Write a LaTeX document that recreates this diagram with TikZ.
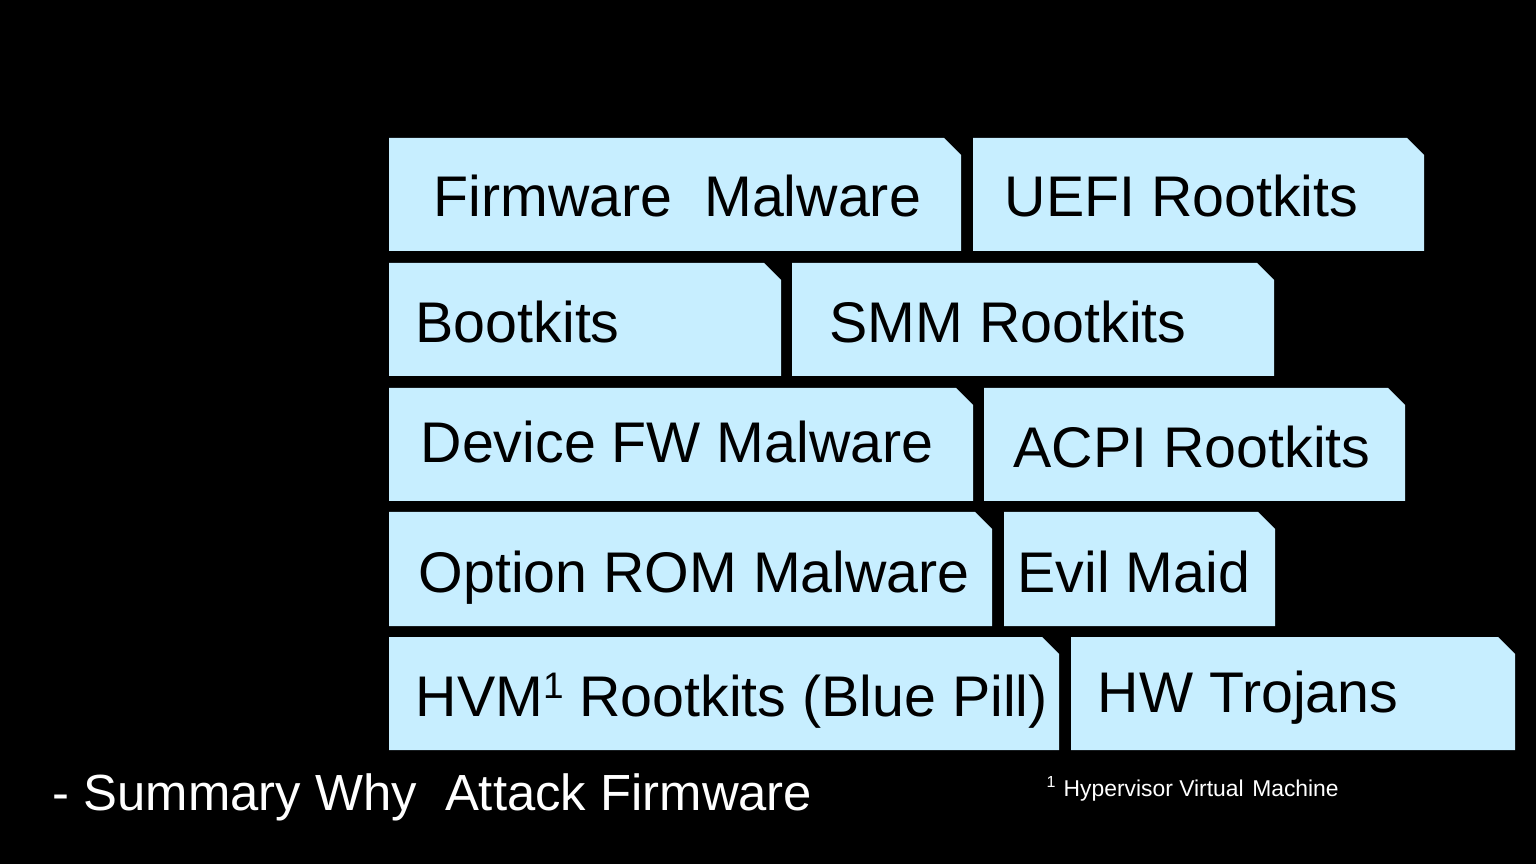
\documentclass[tikz,border=0pt]{standalone}
\usepackage{fontspec}
\setmainfont{Liberation Sans}
\definecolor{TileBlue}{RGB}{199,238,255}
\newcommand{\supone}{\raisebox{0.3em}{\fontsize{10.5}{12}\selectfont 1}}
\tikzset{
  tile/.style={fill=TileBlue},
  tiletext/.style={anchor=base west,inner sep=0pt,text=black,
    font=\fontsize{16.3}{20}\selectfont},
  caption/.style={anchor=base west,inner sep=0pt,text=white,
    font=\fontsize{14.45}{18}\selectfont},
  footnote/.style={anchor=base west,inner sep=0pt,text=white,
    font=\fontsize{6.5}{8}\selectfont}
}

\begin{document}
\begin{tikzpicture}[x=0.01cm,y=-0.01cm]
  \fill[black] (0,0) rectangle (1536,864);
  % tiles: left, right, top, bottom
  \foreach \xa/\xb/\ya/\yb in {389/961/138/251, 973/1424/138/251,
      389/781/263/376, 792/1274/263/376,
      389/973/388/501, 984/1405/388/501,
      389/992/512/626, 1004/1275/512/626,
      389/1059/637/750, 1071/1515/637/750}
    \fill[tile] (\xa,\ya) -- (\xb-17,\ya) -- (\xb,\ya+17) -- (\xb,\yb) -- (\xa,\yb) -- cycle;

  \node[tiletext] (fwmal) at (433,217) {Firmware\ \ Malware};
  \node[tiletext] (uefi) at (1004,217) {UEFI Rootkits};
  \node[tiletext] (boot) at (415,343) {Bootkits};
  \node[tiletext] (smm) at (829,343) {SMM Rootkits};
  \node[tiletext] (devfw) at (420,463) {Device FW Malware};
  \node[tiletext] (acpi) at (1013,468) {ACPI Rootkits};
  \node[tiletext] (optrom) at (418,593) {Option ROM Malware};
  \node[tiletext] (evil) at (1017,593) {Evil Maid};
  \node[tiletext] (hvm) at (415,716) {HVM\supone\ Rootkits (Blue Pill)};
  \node[tiletext] (hwtro) at (1097,712) {HW Trojans};

  \node[caption] (summary) at (52,810) {- Summary Why\ \ Attack Firmware};
  \node[footnote] (hvmnote) at (1046,796) {\textsuperscript{1} Hypervisor Virtual\ \kern0.1em Machine};
\end{tikzpicture}
\end{document}
